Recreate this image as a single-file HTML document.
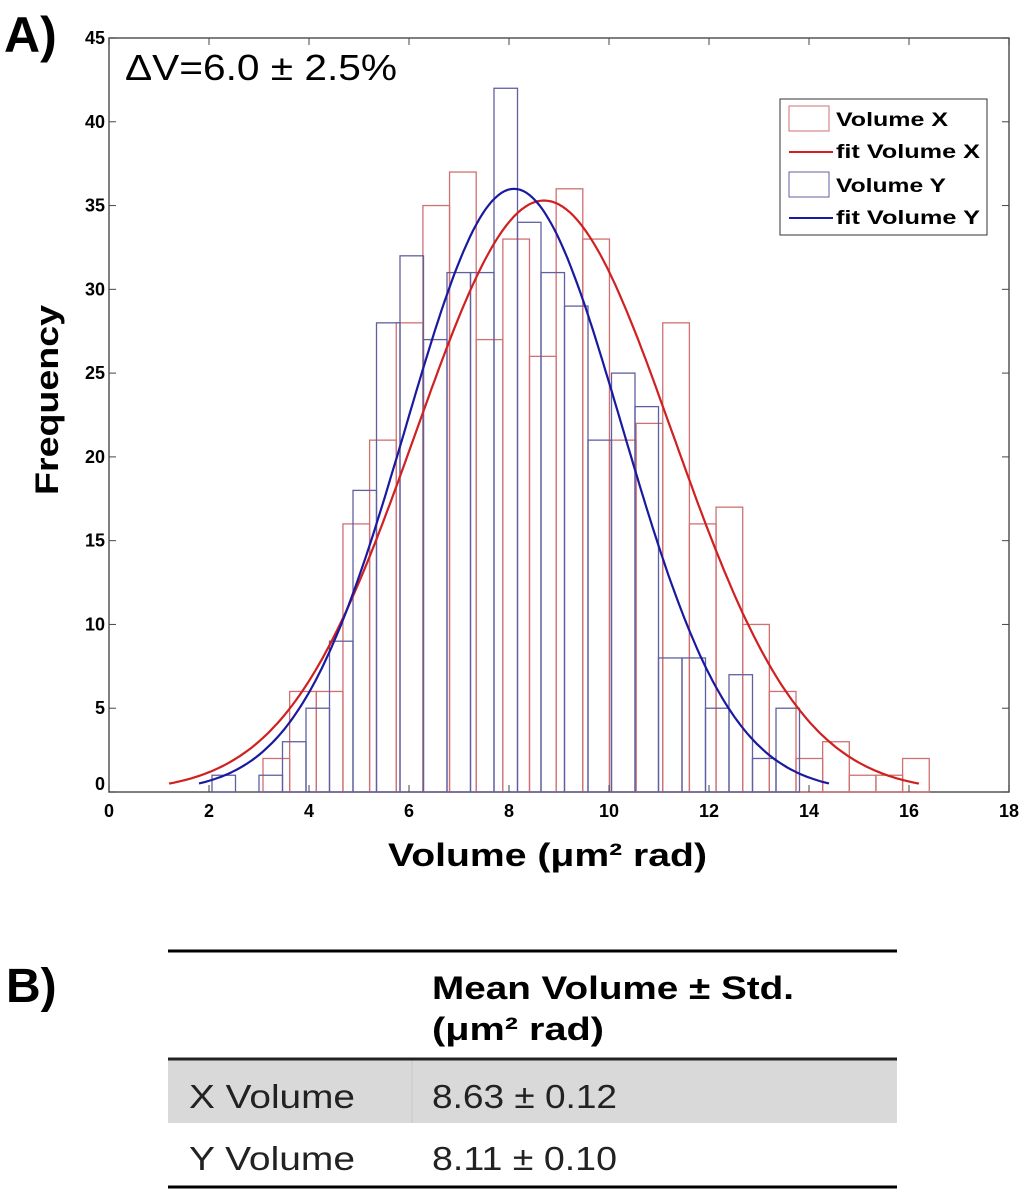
<!DOCTYPE html>
<html><head><meta charset="utf-8"><style>
body{margin:0;background:#fff;width:1024px;height:1191px;overflow:hidden;font-family:"Liberation Sans",sans-serif}
</style></head><body>
<svg id="chart" width="1024" height="1191" viewBox="0 0 1024 1191" xmlns="http://www.w3.org/2000/svg" font-family="Liberation Sans, sans-serif">
<text x="4" y="52" font-size="50" font-weight="bold">A)</text>
<g id="plot"></g>
<text x="125" y="80" font-size="36" textLength="272" lengthAdjust="spacingAndGlyphs">ΔV=6.0 ± 2.5%</text>
<text x="388" y="866" font-size="32" font-weight="bold" textLength="319" lengthAdjust="spacingAndGlyphs">Volume (μm² rad)</text>
<text transform="translate(58,400) rotate(-90)" font-size="32" font-weight="bold" text-anchor="middle" textLength="190" lengthAdjust="spacingAndGlyphs">Frequency</text>
<g>
<rect x="780" y="99" width="207" height="136" fill="#fff" stroke="#333" stroke-width="1"/>
<rect x="789" y="106" width="40" height="25" fill="none" stroke="#d07070"/>
<text x="836" y="126" font-size="19" font-weight="bold" textLength="112" lengthAdjust="spacingAndGlyphs">Volume X</text>
<line x1="789" y1="152" x2="833" y2="152" stroke="#d02020" stroke-width="2"/>
<text x="836" y="158" font-size="19" font-weight="bold" textLength="144" lengthAdjust="spacingAndGlyphs">fit Volume X</text>
<rect x="789" y="172" width="40" height="25" fill="none" stroke="#6060a0"/>
<text x="836" y="192" font-size="19" font-weight="bold" textLength="110" lengthAdjust="spacingAndGlyphs">Volume Y</text>
<line x1="789" y1="218" x2="833" y2="218" stroke="#1a1aa0" stroke-width="2"/>
<text x="836" y="224" font-size="19" font-weight="bold" textLength="144" lengthAdjust="spacingAndGlyphs">fit Volume Y</text>
</g>
<text x="6" y="1002" font-size="48" font-weight="bold">B)</text>
<g>
<rect x="168" y="1059" width="729" height="64" fill="#d9d9d9"/>
<line x1="412" y1="1059" x2="412" y2="1123" stroke="#c8c8c8"/>
<line x1="168" y1="951" x2="897" y2="951" stroke="#000" stroke-width="3"/>
<line x1="168" y1="1059" x2="897" y2="1059" stroke="#222" stroke-width="3"/>
<line x1="168" y1="1187" x2="897" y2="1187" stroke="#000" stroke-width="3"/>
<text x="432" y="999" font-size="32" font-weight="bold" textLength="362" lengthAdjust="spacingAndGlyphs">Mean Volume ± Std.</text>
<text x="432" y="1040" font-size="32" font-weight="bold" textLength="172" lengthAdjust="spacingAndGlyphs">(μm² rad)</text>
<text x="189" y="1108" font-size="33" fill="#222" textLength="166" lengthAdjust="spacingAndGlyphs">X Volume</text>
<text x="432" y="1108" font-size="33" fill="#222" textLength="185" lengthAdjust="spacingAndGlyphs">8.63 ± 0.12</text>
<text x="189" y="1170" font-size="33" fill="#222" textLength="166" lengthAdjust="spacingAndGlyphs">Y Volume</text>
<text x="432" y="1170" font-size="33" fill="#222" textLength="185" lengthAdjust="spacingAndGlyphs">8.11 ± 0.10</text>
</g>
</svg>
<script>
const redStart = 3.08, redWidth = 0.533;
const redCounts = [2,6,6,16,21,28,35,37,27,33,26,36,33,21,22,28,16,17,10,6,2,3,1,1,2];
const blueStart = 2.06, blueWidth = 0.47;
const blueCounts = [1,0,1,3,5,9,18,28,32,27,31,31,42,34,31,29,21,25,23,8,8,5,7,2,5];
const redFit = {mean: 8.7, sigma: 2.57, peak: 35.3, from: 1.2, to: 16.2};
const blueFit = {mean: 8.1, sigma: 2.16, peak: 36.0, from: 1.8, to: 14.4};
const xTicks = [0,2,4,6,8,10,12,14,16,18];
const yTicks = [0,5,10,15,20,25,30,35,40,45];

const NS = "http://www.w3.org/2000/svg";
const g = document.getElementById('plot');
const X0 = 109, X1 = 1009, Y0 = 792, Y1 = 38;
const xs = v => X0 + v * (X1 - X0) / 18;
const ys = v => Y0 - v * (Y0 - Y1) / 45;
function mk(tag, attrs, parent) {
  const e = document.createElementNS(NS, tag);
  for (const k in attrs) e.setAttribute(k, attrs[k]);
  (parent || g).appendChild(e);
  return e;
}
let frame = mk('rect', {x: X0, y: Y1, width: X1 - X0, height: Y0 - Y1, fill: 'none', stroke: '#555', 'stroke-width': 1.5});


redCounts.forEach((c, i) => {
  if (!c) return;
  const r = mk('rect', {x: xs(redStart + i * redWidth), y: ys(c), width: xs(redWidth) - xs(0), height: ys(0) - ys(c), fill: 'none', stroke: '#d07070', 'stroke-width': 1.3});
  
  
});
blueCounts.forEach((c, i) => {
  if (!c) return;
  const r = mk('rect', {x: xs(blueStart + i * blueWidth), y: ys(c), width: xs(blueWidth) - xs(0), height: ys(0) - ys(c), fill: 'none', stroke: '#6060a0', 'stroke-width': 1.3});
  
  
});
function fitPath(f) {
  let d = '';
  for (let k = 0; k <= 200; k++) {
    const v = f.from + (f.to - f.from) * k / 200;
    const y = f.peak * Math.exp(-((v - f.mean) ** 2) / (2 * f.sigma * f.sigma));
    d += (k ? 'L' : 'M') + xs(v).toFixed(1) + ',' + ys(y).toFixed(1);
  }
  return d;
}
const rf = mk('path', {d: fitPath(redFit), fill: 'none', stroke: '#d02020', 'stroke-width': 2.2});


const bf = mk('path', {d: fitPath(blueFit), fill: 'none', stroke: '#1a1aa0', 'stroke-width': 2.2});


xTicks.forEach(t => {
  mk('line', {x1: xs(t), y1: Y0, x2: xs(t), y2: Y0 - 7, stroke: '#444'});
  mk('line', {x1: xs(t), y1: Y1, x2: xs(t), y2: Y1 + 7, stroke: '#444'});
  const tx = mk('text', {x: xs(t), y: 817, 'font-size': 18, 'font-weight': 'bold', 'text-anchor': 'middle'});
  tx.textContent = t;
  
  
});
yTicks.forEach(t => {
  mk('line', {x1: X0, y1: ys(t), x2: X0 + 7, y2: ys(t), stroke: '#444'});
  mk('line', {x1: X1, y1: ys(t), x2: X1 - 7, y2: ys(t), stroke: '#444'});
  const tx = mk('text', {x: X0 - 4, y: ys(t) + (t === 0 ? -2 : 6), 'font-size': 18, 'font-weight': 'bold', 'text-anchor': 'end'});
  tx.textContent = t;
  
  
});
</script>
</body></html>
